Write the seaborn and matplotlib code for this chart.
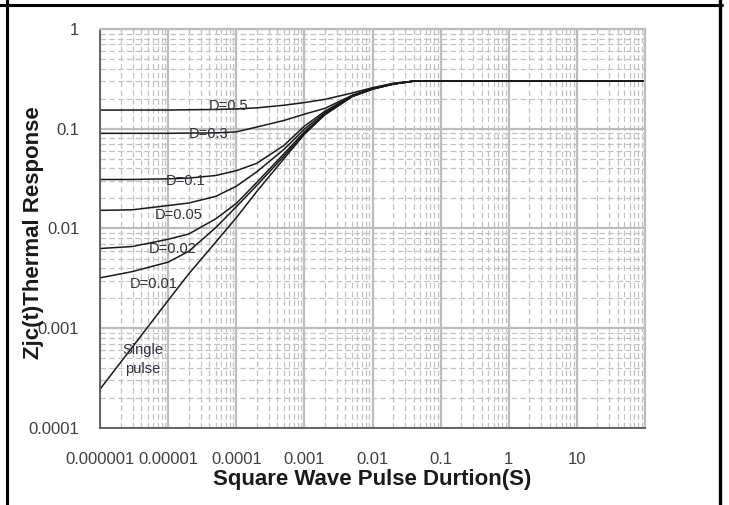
import numpy as np
import pandas as pd
import matplotlib
matplotlib.use('Agg')
import matplotlib.pyplot as plt
import matplotlib.ticker as mticker
from matplotlib.lines import Line2D
import seaborn as sns

t = [1e-6, 3e-6, 1e-5, 2e-5, 5e-5, 1e-4, 2e-4, 5e-4, 1e-3, 2e-3, 5e-3, 1e-2, 2e-2, 4e-2, 100]

# thermal response Zjc(t) per duty cycle
d_05 = [0.154, 0.154, 0.154, 0.155, 0.156, 0.158, 0.162, 0.172, 0.183, 0.197, 0.228, 0.258, 0.285, 0.300, 0.300]
d_03 = [0.090, 0.090, 0.090, 0.0905, 0.091, 0.093, 0.104, 0.121, 0.140, 0.160, 0.216, 0.254, 0.283, 0.300, 0.300]
d_01 = [0.031, 0.031, 0.0315, 0.032, 0.034, 0.038, 0.045, 0.068, 0.106, 0.150, 0.214, 0.252, 0.282, 0.300, 0.300]
d_005 = [0.0152, 0.0154, 0.017, 0.018, 0.021, 0.0265, 0.037, 0.062, 0.099, 0.145, 0.213, 0.251, 0.281, 0.300, 0.300]
d_002 = [0.0063, 0.0066, 0.0078, 0.0088, 0.0125, 0.0178, 0.029, 0.056, 0.093, 0.141, 0.211, 0.250, 0.280, 0.300, 0.300]
d_001 = [0.0032, 0.0037, 0.0046, 0.0059, 0.0102, 0.0165, 0.027, 0.053, 0.090, 0.139, 0.210, 0.250, 0.280, 0.300, 0.300]
single = [2.45e-4, 6.5e-4, 1.9e-3, 3.5e-3, 7.3e-3, 0.0128, 0.0235, 0.050, 0.088, 0.138, 0.210, 0.250, 0.280, 0.300, 0.300]

curve_names = ['D=0.5', 'D=0.3', 'D=0.1', 'D=0.05', 'D=0.02', 'D=0.01', 'Single pulse']
curve_vals = [d_05, d_03, d_01, d_005, d_002, d_001, single]

x_ticks = [1e-6, 1e-5, 1e-4, 1e-3, 1e-2, 1e-1, 1, 10, 100]
x_tick_labels = ['0.000001', '0.00001', '0.0001', '0.001', '0.01', '0.1', '1', '10', '']
y_ticks = [1e-4, 1e-3, 1e-2, 1e-1, 1]
y_tick_labels = ['0.0001', '0.001', '0.01', '0.1', '1']

# long-form table for seaborn
df = pd.concat([pd.DataFrame({'t': t, 'z': v, 'curve': n})
                for n, v in zip(curve_names, curve_vals)], ignore_index=True)

sns.set_style('white')
plt.rcParams['font.family'] = ['Liberation Sans', 'DejaVu Sans']

fig = plt.figure(figsize=(7.29, 5.05), dpi=100)
ax = fig.add_axes([100 / 729, 1 - 428 / 505, 545 / 729, 399 / 505])

sns.lineplot(data=df, x='t', y='z', hue='curve', palette=['#1a1a1a'] * 7,
             estimator=None, sort=False, legend=False, linewidth=1.1, ax=ax)

ax.set_xscale('log')
ax.set_yscale('log')
ax.set_xlim(1e-6, 100)
ax.set_ylim(1e-4, 1)

# major and minor grid
ax.xaxis.set_major_locator(mticker.FixedLocator(x_ticks))
ax.xaxis.set_major_formatter(mticker.FixedFormatter(x_tick_labels))
ax.yaxis.set_major_locator(mticker.FixedLocator(y_ticks))
ax.yaxis.set_major_formatter(mticker.FixedFormatter(y_tick_labels))
ax.xaxis.set_minor_locator(mticker.LogLocator(base=10, subs=np.arange(2, 10), numticks=20))
ax.yaxis.set_minor_locator(mticker.LogLocator(base=10, subs=np.arange(2, 10), numticks=20))
ax.xaxis.set_minor_formatter(mticker.NullFormatter())
ax.yaxis.set_minor_formatter(mticker.NullFormatter())
ax.grid(True, which='major', color='#bdbdbd', linewidth=1.6, linestyle='-')
ax.grid(True, which='minor', color='#c2c2c2', linewidth=0.9, linestyle=(0, (4.5, 2.5)))
ax.set_axisbelow(True)

ax.tick_params(axis='both', which='major', direction='out', length=4, width=1,
               color='#595959', labelsize=12, labelcolor='#404040')
ax.tick_params(axis='x', which='major', pad=13)
ax.tick_params(axis='y', which='major', pad=11)
ax.tick_params(which='minor', length=0)

for side in ['left', 'bottom']:
    ax.spines[side].set_color('#595959')
    ax.spines[side].set_linewidth(1.3)
for side in ['top', 'right']:
    ax.spines[side].set_color('#bdbdbd')
    ax.spines[side].set_linewidth(1.6)

ax.set_xlabel('Square Wave Pulse Durtion(S)', fontsize=16, fontweight='bold',
              color='#1a1a1a', labelpad=2)
ax.set_ylabel('Zjc(t)Thermal Response', fontsize=16, fontweight='bold', color='#1a1a1a')
ax.yaxis.set_label_coords(-0.102, 0.49)

# curve labels
label_pos = [(7.6e-5, 0.168), (3.9e-5, 0.088), (1.78e-5, 0.030), (1.45e-5, 0.0135),
             (1.15e-5, 0.0063), (6.2e-6, 0.0028), (4.2e-6, 4.9e-4)]
label_txt = ['D=0.5', 'D=0.3', 'D=0.1', 'D=0.05', 'D=0.02', 'D=0.01', 'Single\npulse']
for (lx, ly), s in zip(label_pos, label_txt):
    ax.text(lx, ly, s, ha='center', va='center', fontsize=10.5, color='#303040',
            linespacing=1.45)

# surrounding table cell border
fig.add_artist(Line2D([0, 722 / 729], [1 - 4.7 / 505] * 2, color='black', linewidth=2.2))
fig.add_artist(Line2D([6.5 / 729] * 2, [0, 1], color='black', linewidth=2.2))
fig.add_artist(Line2D([720 / 729] * 2, [0, 1], color='black', linewidth=2.4))

fig.savefig('out.png', dpi=100)
plt.close(fig)
